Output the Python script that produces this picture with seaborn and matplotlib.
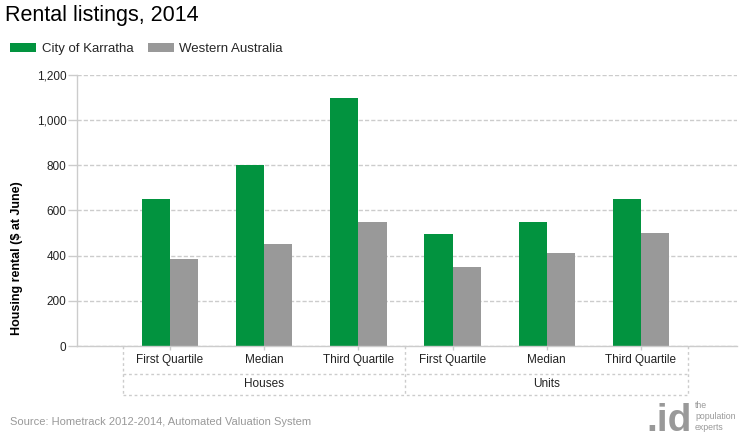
import matplotlib
matplotlib.use("Agg")
import matplotlib.pyplot as plt
import matplotlib.transforms as mtransforms
import pandas as pd
import seaborn as sns

# ---- data ----
groups = ["Houses", "Units"]
measures = ["First Quartile", "Median", "Third Quartile"]
series = ["City of Karratha", "Western Australia"]
karratha = [650, 800, 1100, 495, 550, 650]
western_australia = [385, 450, 550, 350, 410, 500]
yticks = [0, 200, 400, 600, 800, 1000, 1200]

title = "Rental listings, 2014"
ylabel = "Housing rental ($ at June)"
source = "Source: Hometrack 2012-2014, Automated Valuation System"

GREEN = "#02933f"
GRAY = "#999999"
LINE = "#cccccc"

slots = [f"{g}|{m}" for g in groups for m in measures]
rows = []
for s, vals in zip(series, [karratha, western_australia]):
    for slot, v in zip(slots, vals):
        rows.append({"slot": slot, "series": s, "value": v})
df = pd.DataFrame(rows)

sns.set_theme(style="white")
plt.rcParams["font.family"] = ["Liberation Sans", "DejaVu Sans"]

fig = plt.figure(figsize=(7.4, 4.4), dpi=100)
ax = fig.add_axes([77 / 740, 94 / 440, 660 / 740, 271 / 440])

sns.barplot(data=df, x="slot", y="value", hue="series", order=slots,
            hue_order=series, palette=[GREEN, GRAY], width=0.6, gap=0,
            saturation=1, ax=ax, errorbar=None, linewidth=0, edgecolor="none")

handles, labels = ax.get_legend_handles_labels()
if ax.get_legend() is not None:
    ax.get_legend().remove()

ax.set_xlim(-0.988, 6.02)
ax.set_ylim(0, 1200)
ax.set_yticks(yticks)
ax.set_yticklabels([f"{v:,}" for v in yticks])
ax.set_xticks(range(len(slots)))
ax.set_xticklabels([m for g in groups for m in measures])
ax.set_xlabel("")
ax.set_ylabel("")

ax.set_axisbelow(True)
ax.yaxis.grid(True, linestyle=(0, (3, 1.5)), color=LINE, linewidth=1)
ax.xaxis.grid(False)
for sp in ["top", "right"]:
    ax.spines[sp].set_visible(False)
for sp in ["left", "bottom"]:
    ax.spines[sp].set_color(LINE)
    ax.spines[sp].set_linewidth(1)

ax.tick_params(axis="y", left=True, length=6.5, width=1, color=LINE, pad=1,
               labelsize=8.5, labelcolor="#222222")
ax.tick_params(axis="x", bottom=True, length=3, width=1, color=LINE, pad=3,
               labelsize=8.5, labelcolor="#222222")

# group box below axis
trans = mtransforms.blended_transform_factory(ax.transData, ax.transAxes)
y1 = (346 - 374) / 271
y2 = (346 - 395) / 271
ls = (0, (2, 2))
for xv in [-0.5, 2.5, 5.5]:
    ax.plot([xv, xv], [0, y2], transform=trans, color=LINE, lw=1, ls=ls, clip_on=False)
for yv in [y1, y2]:
    ax.plot([-0.5, 5.5], [yv, yv], transform=trans, color=LINE, lw=1, ls=ls, clip_on=False)
for i, g in enumerate(groups):
    ax.text(i * 3 + 1, (346 - 384) / 271, g, transform=trans, ha="center",
            va="center", fontsize=8.5, color="#222222")

fig.legend(handles, labels, loc="upper left", bbox_to_anchor=(10 / 740, 1 - 43 / 440),
           ncol=2, frameon=False, fontsize=9.5, handlelength=2.0, handleheight=0.7,
           handletextpad=0.4, columnspacing=1.1, borderpad=0, borderaxespad=0)

fig.text(5 / 740, 1 - 15 / 440, title, fontsize=15.5, va="center", ha="left", color="#000000")
fig.text(17 / 740, 1 - 258 / 440, ylabel, rotation=90, fontweight="bold", fontsize=9,
         va="center", ha="center", color="#000000")
fig.text(10 / 740, 1 - 422 / 440, source, fontsize=8, color=GRAY, va="center", ha="left")

# logo
fig.text(646 / 740, 1 - 439 / 440, ".id", fontsize=28, fontweight="bold", color=GRAY,
         va="bottom", ha="left")
fig.text(695 / 740, 1 - 401 / 440, "the\npopulation\nexperts", fontsize=6.3, color=GRAY,
         va="top", ha="left", linespacing=1.3)

fig.savefig("out.png", dpi=100)
